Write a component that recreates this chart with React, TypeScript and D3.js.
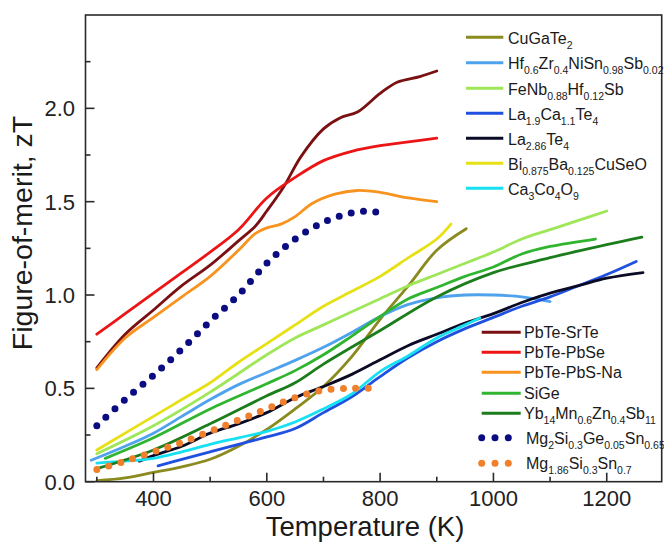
import React from "react";
import * as d3 from "d3";

type Pt = [number, number];

const xTicksMajor = [400, 600, 800, 1000, 1200];
const xTicksMinor = [300, 500, 700, 900, 1100];
const yTicksMajor = [0, 0.5, 1.0, 1.5, 2.0];
const yTicksMinor = [0.25, 0.75, 1.25, 1.75, 2.25];

const CuGaTe2: Pt[] = [[300,0.005],[350,0.02],[400,0.05],[450,0.08],[500,0.12],[550,0.19],[600,0.28],[650,0.39],[700,0.51],[750,0.67],[800,0.87],[850,1.05],[900,1.24],[952,1.355]];
const HfZrNiSnSb: Pt[] = [[290,0.115],[350,0.19],[400,0.26],[450,0.35],[500,0.44],[550,0.52],[600,0.585],[650,0.65],[700,0.72],[750,0.8],[800,0.885],[850,0.95],[900,0.985],[950,1.0],[1000,1.0],[1050,0.99],[1100,0.965]];
const FeNbHfSb: Pt[] = [[300,0.15],[400,0.3],[500,0.48],[600,0.68],[650,0.77],[700,0.84],[750,0.91],[800,0.98],[850,1.05],[900,1.11],[950,1.17],[1000,1.23],[1050,1.3],[1100,1.35],[1150,1.4],[1200,1.45]];
const La19Ca11Te4: Pt[] = [[408,0.085],[450,0.12],[500,0.16],[550,0.2],[600,0.24],[650,0.285],[700,0.37],[750,0.455],[800,0.563],[850,0.665],[900,0.75],[950,0.82],[1000,0.88],[1050,0.94],[1100,0.99],[1150,1.05],[1200,1.11],[1252,1.18]];
const La286Te4: Pt[] = [[375,0.11],[400,0.14],[450,0.19],[500,0.26],[550,0.31],[600,0.37],[650,0.45],[700,0.51],[750,0.575],[800,0.653],[850,0.73],[900,0.79],[950,0.85],[1000,0.9],[1050,0.96],[1100,1.01],[1150,1.05],[1200,1.09],[1264,1.12]];
const BiBaCuSeO: Pt[] = [[300,0.17],[350,0.26],[400,0.35],[450,0.44],[500,0.53],[550,0.64],[600,0.74],[650,0.84],[700,0.94],[750,1.02],[800,1.1],[850,1.2],[900,1.3],[925,1.38]];
const Ca3Co4O9: Pt[] = [[300,0.1],[350,0.11],[400,0.125],[450,0.16],[500,0.2],[550,0.235],[600,0.27],[650,0.32],[700,0.39],[750,0.47],[800,0.59],[850,0.675],[900,0.77],[950,0.84],[976,0.877]];
const PbTeSrTe: Pt[] = [[300,0.61],[350,0.79],[400,0.92],[450,1.05],[500,1.16],[550,1.29],[580,1.37],[600,1.45],[630,1.58],[660,1.74],[700,1.89],[730,1.95],[760,1.98],[800,2.08],[830,2.14],[870,2.17],[900,2.2]];
const PbTePbSe: Pt[] = [[300,0.79],[350,0.9],[400,1.01],[450,1.12],[500,1.23],[550,1.35],[600,1.52],[650,1.63],[700,1.72],[750,1.77],[800,1.8],[850,1.82],[900,1.84]];
const PbTePbSNa: Pt[] = [[300,0.6],[350,0.77],[400,0.88],[450,0.99],[500,1.1],[550,1.24],[580,1.33],[600,1.36],[625,1.38],[650,1.42],[680,1.49],[720,1.54],[760,1.56],[800,1.55],[850,1.52],[900,1.5]];
const SiGe: Pt[] = [[315,0.125],[400,0.235],[500,0.39],[600,0.525],[650,0.595],[700,0.68],[750,0.78],[800,0.885],[850,0.98],[900,1.04],[950,1.1],[1000,1.15],[1050,1.22],[1100,1.26],[1180,1.3]];
const YbMnZnSb: Pt[] = [[300,0.07],[400,0.17],[500,0.31],[600,0.46],[650,0.53],[700,0.63],[800,0.81],[900,0.99],[1000,1.12],[1100,1.2],[1200,1.27],[1262,1.31]];
const Mg2SiGeSn: Pt[] = [[300,0.3],[350,0.44],[400,0.57],[450,0.71],[500,0.86],[550,1.0],[600,1.17],[650,1.3],[700,1.39],[750,1.44],[780,1.45],[800,1.44]];
const Mg186SiSn: Pt[] = [[300,0.065],[350,0.11],[400,0.16],[450,0.21],[500,0.27],[550,0.33],[600,0.39],[650,0.45],[700,0.49],[750,0.5],[795,0.5]];

type Seg = [string, boolean];
interface Series { data: Pt[]; color: string; label: Seg[]; dotted?: boolean; }

const legendTop: Series[] = [
  { data: CuGaTe2, color: "#8a8a1e", label: [["CuGaTe", false], ["2", true]] },
  { data: HfZrNiSnSb, color: "#4fa2ec", label: [["Hf", false], ["0.6", true], ["Zr", false], ["0.4", true], ["NiSn", false], ["0.98", true], ["Sb", false], ["0.02", true]] },
  { data: FeNbHfSb, color: "#9fe658", label: [["FeNb", false], ["0.88", true], ["Hf", false], ["0.12", true], ["Sb", false]] },
  { data: La19Ca11Te4, color: "#1f50df", label: [["La", false], ["1.9", true], ["Ca", false], ["1.1", true], ["Te", false], ["4", true]] },
  { data: La286Te4, color: "#0b0b26", label: [["La", false], ["2.86", true], ["Te", false], ["4", true]] },
  { data: BiBaCuSeO, color: "#e6e014", label: [["Bi", false], ["0.875", true], ["Ba", false], ["0.125", true], ["CuSeO", false]] },
  { data: Ca3Co4O9, color: "#16e0f2", label: [["Ca", false], ["3", true], ["Co", false], ["4", true], ["O", false], ["9", true]] },
];
const legendBottom: Series[] = [
  { data: PbTeSrTe, color: "#7a1012", label: [["PbTe-SrTe", false]] },
  { data: PbTePbSe, color: "#ec1515", label: [["PbTe-PbSe", false]] },
  { data: PbTePbSNa, color: "#f7931e", label: [["PbTe-PbS-Na", false]] },
  { data: SiGe, color: "#30b530", label: [["SiGe", false]] },
  { data: YbMnZnSb, color: "#1c7d1c", label: [["Yb", false], ["14", true], ["Mn", false], ["0.6", true], ["Zn", false], ["0.4", true], ["Sb", false], ["11", true]] },
  { data: Mg2SiGeSn, color: "#0c0c82", dotted: true, label: [["Mg", false], ["2", true], ["Si", false], ["0.3", true], ["Ge", false], ["0.05", true], ["Sn", false], ["0.65", true]] },
  { data: Mg186SiSn, color: "#f0802c", dotted: true, label: [["Mg", false], ["1.86", true], ["Si", false], ["0.3", true], ["Sn", false], ["0.7", true]] },
];

const W = 664, H = 542;
const L = 85.5, R = 661.7, T = 15, B = 481.7;
const FONT = "'Liberation Sans', Arial, Helvetica, sans-serif";

export default function App() {
  const x = d3.scaleLinear().domain([280, 1297]).range([L, R]);
  const y = d3.scaleLinear().domain([0, 2.5]).range([B, T]);
  const line = d3.line<Pt>().x(d => x(d[0])).y(d => y(d[1])).curve(d3.curveCatmullRom.alpha(0.5));
  const all = [...legendTop, ...legendBottom];
  const solid = all.filter(s => !s.dotted);
  const dotted = all.filter(s => s.dotted);

  const topRows = [37.3, 62.7, 88.3, 113.3, 138.3, 163.3, 188.3];
  const botRows = [332.3, 352.3, 372.3, 393.3, 413.3, 437.7, 463.3];

  const renderLabel = (segs: Seg[], tx: number, ty: number) => (
    <text x={tx} y={ty} fontSize={16} fontFamily={FONT} fill="#1a1a1a">
      {segs.map((s, i) => s[1]
        ? <tspan key={i} fontSize={10.5} dy={5}>{s[0]}</tspan>
        : <tspan key={i} dy={i > 0 && segs[i - 1][1] ? -5 : 0}>{s[0]}</tspan>)}
    </text>
  );

  return (
    <svg width={W} height={H} style={{ position: "absolute", left: 0, top: 0, background: "#fff" }}>
      <rect x={0} y={0} width={W} height={H} fill="#fff" />
      <defs>
        <clipPath id="plot"><rect x={L} y={T} width={R - L} height={B - T} /></clipPath>
      </defs>
      <g clipPath="url(#plot)">
        {solid.map((s, i) => (
          <path key={i} d={line(s.data) || ""} fill="none" stroke={s.color} strokeWidth={2.8} strokeLinecap="round" strokeLinejoin="round" />
        ))}
        {dotted.map((s, i) => (
          <path key={"d" + i} d={line(s.data) || ""} fill="none" stroke={s.color} strokeWidth={7} strokeLinecap="round" strokeDasharray="0 12.4" />
        ))}
      </g>
      <rect x={L} y={T} width={R - L} height={B - T} fill="none" stroke="#2a2a2a" strokeWidth={1.6} />
      {xTicksMajor.map(t => (
        <g key={"xM" + t}>
          <line x1={x(t)} x2={x(t)} y1={B} y2={B - 9} stroke="#2a2a2a" strokeWidth={1.6} />
          <text x={x(t)} y={506} textAnchor="middle" fontSize={22} fontFamily={FONT} fill="#222">{t}</text>
        </g>
      ))}
      {xTicksMinor.map(t => (
        <line key={"xm" + t} x1={x(t)} x2={x(t)} y1={B} y2={B - 5} stroke="#2a2a2a" strokeWidth={1.6} />
      ))}
      {yTicksMajor.map(t => (
        <g key={"yM" + t}>
          <line x1={L} x2={L + 9} y1={y(t)} y2={y(t)} stroke="#2a2a2a" strokeWidth={1.6} />
          <text x={75} y={y(t)} dy="0.36em" textAnchor="end" fontSize={22} fontFamily={FONT} fill="#222">{t.toFixed(1)}</text>
        </g>
      ))}
      {yTicksMinor.map(t => (
        <line key={"ym" + t} x1={L} x2={L + 5} y1={y(t)} y2={y(t)} stroke="#2a2a2a" strokeWidth={1.6} />
      ))}
      <text x={365} y={536} textAnchor="middle" fontSize={27.5} fontFamily={FONT} fill="#1a1a1a">Temperature (K)</text>
      <text transform={`translate(32,233) rotate(-90)`} textAnchor="middle" fontSize={28.5} fontFamily={FONT} fill="#1a1a1a">Figure-of-merit, zT</text>
      {legendTop.map((s, i) => (
        <g key={"lt" + i}>
          <line x1={466} x2={503.3} y1={topRows[i]} y2={topRows[i]} stroke={s.color} strokeWidth={3} />
          {renderLabel(s.label, 508, topRows[i] + 6.5)}
        </g>
      ))}
      {legendBottom.map((s, i) => (
        <g key={"lb" + i}>
          {s.dotted
            ? [481.7, 495, 508.3].map(cx => <circle key={cx} cx={cx} cy={botRows[i]} r={3.5} fill={s.color} />)
            : <line x1={481.7} x2={520.7} y1={botRows[i]} y2={botRows[i]} stroke={s.color} strokeWidth={3} />}
          {renderLabel(s.label, s.dotted ? 526 : 524, botRows[i] + 6)}
        </g>
      ))}
    </svg>
  );
}
